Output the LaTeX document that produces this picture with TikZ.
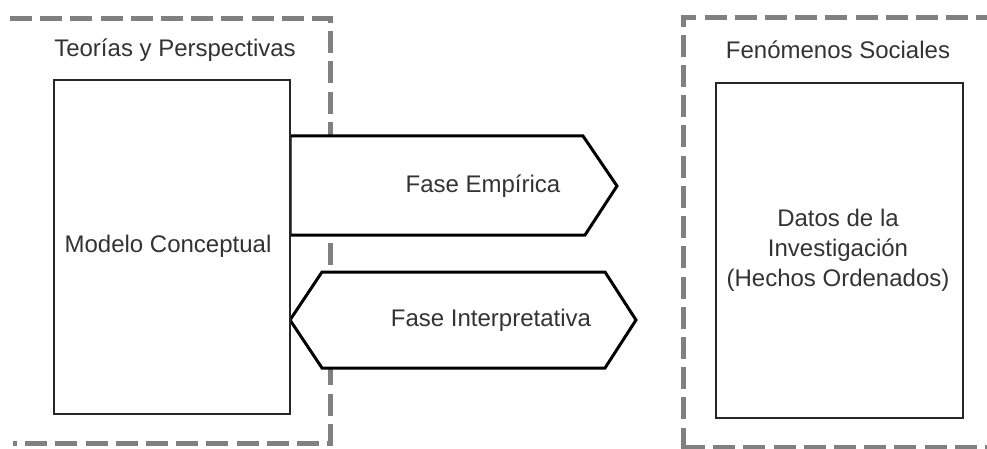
\documentclass[tikz,border=0pt]{standalone}
\usepackage{fontspec}
\setmainfont{Liberation Sans}
\definecolor{framegray}{HTML}{808080}
\definecolor{panelline}{HTML}{262626}
\definecolor{ink}{HTML}{333333}
\begin{document}
\begin{tikzpicture}[x=1pt,y=-1pt,
  groupframe/.style={draw=framegray, line width=5pt, dash pattern=on 22pt off 8.2pt},
  panel/.style={draw=panelline, line width=2pt, fill=white, inner sep=0pt},
  phase/.style={draw=black, line width=3pt, fill=white, line join=miter},
  txt/.style={text=ink, font=\fontsize{24}{30}\selectfont, inner sep=0pt, align=center}]
\useasboundingbox (0,0) rectangle (987,449);
\clip (0,0) rectangle (987,449);

% group frames (dashed)
\draw[groupframe] (10,19) -- (330,19) -- (330,443) -- (13,443);
\draw[groupframe] (683,449.5) -- (683,18) -- (1000,18);
\draw[groupframe] (683,447.5) -- (1000,447.5);

% group titles
\node[txt] (teorias) at (175,50) {Teorías y Perspectivas};
\node[txt] (fenomenos) at (838,50) {Fenómenos Sociales};

% phase arrows between the two panels
\draw[phase] (290,136) -- (583,136) -- (617,186) -- (585,235) -- (290,235) -- cycle;
\draw[phase] (290,320) -- (322,272) -- (605,272) -- (636,320) -- (605,368) -- (322,368) -- cycle;
\node[txt] (empirica) at (483,186) {Fase Empírica};
\node[txt] (interpretativa) at (491,320) {Fase Interpretativa};

% panels
\node[panel, minimum width=236pt, minimum height=334pt] (modelo) at (172,247) {};
\node[txt] (modelotxt) at (168,246) {Modelo Conceptual};
\node[panel, minimum width=247pt, minimum height=335pt] (datos) at (839.5,250.5) {};
\node[txt] (datostxt) at (838,250) {Datos de la\\Investigación\\(Hechos Ordenados)};
\end{tikzpicture}
\end{document}
